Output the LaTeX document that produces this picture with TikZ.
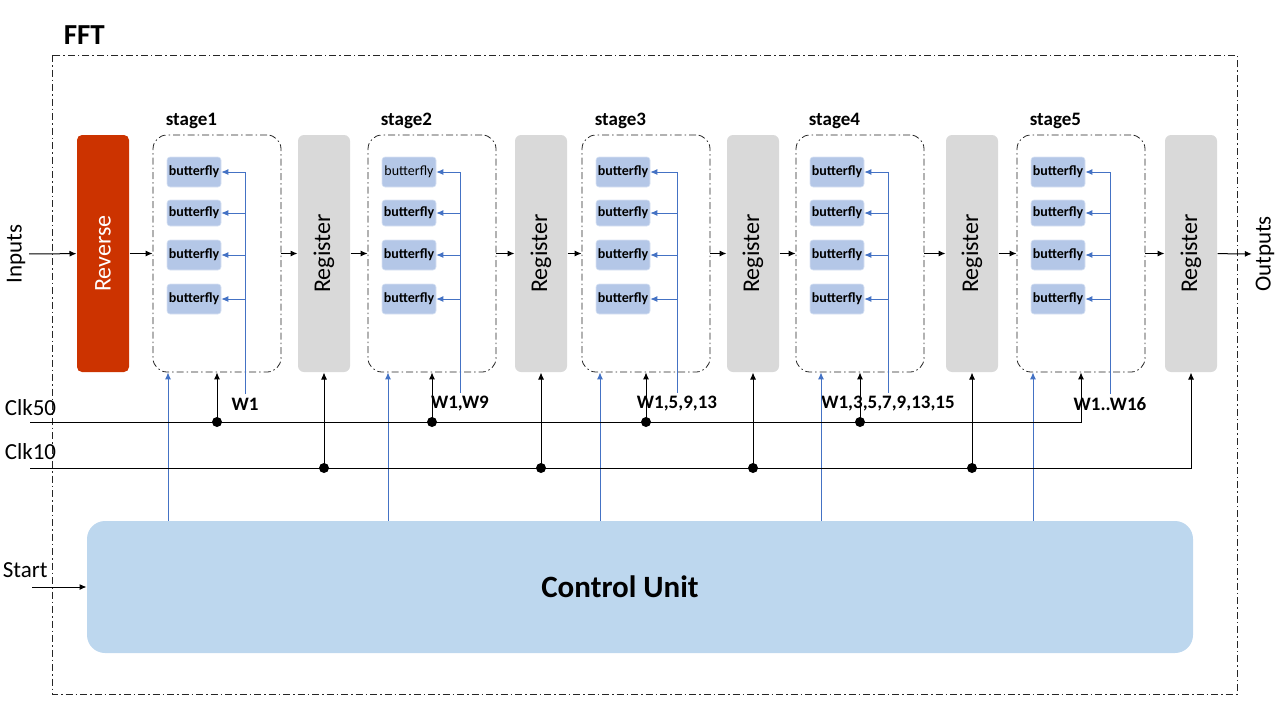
\documentclass[tikz,border=0pt]{standalone}
\usepackage{fontspec}
\setmainfont{Carlito}
\usepackage{graphicx}
\usepackage{xcolor}
\usepackage{tikz}
\usetikzlibrary{positioning, calc, arrows.meta}

\definecolor{revred}{RGB}{204,51,0}
\definecolor{reggray}{RGB}{217,217,217}
\definecolor{bflyblue}{RGB}{180,199,231}
\definecolor{ctrlblue}{RGB}{189,215,238}
\definecolor{wblue}{RGB}{68,114,196}

\begin{document}
\begin{tikzpicture}[x=1pt, y=-1pt, >={Latex[length=7pt,width=6pt]}, line width=1pt,
  revbox/.style={fill=revred, rounded corners=5pt, minimum width=52pt, minimum height=237pt, inner sep=0pt, text=white, font=\fontsize{24}{28}\selectfont},
  regbox/.style={fill=reggray, rounded corners=6pt, minimum width=52pt, minimum height=237pt, inner sep=0pt, font=\fontsize{24}{28}\selectfont},
  stagebox/.style={draw=black!85, line width=0.8pt, dash pattern=on 7pt off 3pt on 1.5pt off 3pt, rounded corners=14pt, minimum width=128pt, minimum height=237pt, inner sep=0pt},
  bfly/.style={fill=bflyblue, draw=bflyblue!50, line width=0.6pt, rounded corners=3pt, minimum width=54pt, inner sep=0pt, font=\fontsize{14}{15}\selectfont\bfseries},
  ctrlbox/.style={fill=ctrlblue, rounded corners=18pt, minimum width=1106pt, minimum height=132pt, inner sep=0pt, font=\fontsize{31}{34}\selectfont\bfseries},
  lbl/.style={font=\fontsize{19}{22}\selectfont\bfseries},
  side/.style={font=\fontsize{23}{26}\selectfont},
  wire/.style={draw=wblue, line width=0.9pt},
  dot/.style={circle, fill=black, inner sep=0pt, minimum size=10pt}]
  \useasboundingbox (0,0) rectangle (1280,720);
  % Outer frame
  \draw[black!85, line width=0.8pt, dash pattern=on 7pt off 3pt on 1.5pt off 3pt] (52,55) rectangle (1237,694);
  \node[font=\fontsize{29}{32}\selectfont\bfseries, anchor=base west] (fft) at (60,44) {FFT};
  % Inputs and outputs
  \node[side, rotate=90] (inp) at (16,254) {Inputs};
  \node[side, rotate=90] (out) at (1265,254) {Outputs};
  \node[revbox] (rev) at (103,253.5) {\rotatebox{90}{Reverse}};
  % Registers
  \foreach \i/\rx in {1/324, 2/541, 3/753, 4/972, 5/1191}
    \node[regbox] (r\i) at (\rx,253.5) {\rotatebox{90}{Register}};
  % Control unit
  \node[ctrlbox] (cu) at (640,587) {Control Unit\hspace*{40pt}};
  \node[side, anchor=west] (start) at (-1,570) {Start};
  \coordinate (st) at (32,587);
  \draw[->] (st) -- (cu);
  % Clocks
  \node[side, anchor=west] (clk50) at (1,408) {Clk50};
  \node[side, anchor=west] (clk10) at (1,452) {Clk10};
  \coordinate (c50) at (30,422);
  \coordinate (c10) at (30,468);
  % Stages
  \foreach \i/\sx/\cx/\wx/\wt in {1/217/168/245/{W1}, 2/432/388/460/{W1,W9}, 3/646/600/677/{W1,5,9,13}, 4/860/821/888/{W1,3,5,7,9,13,15}, 5/1081/1033/1110/{W1..W16}} {
    \node[stagebox] (s\i) at (\sx,253.5) {};
    \node[lbl, anchor=base west] (sl\i) at ({\sx-55},125) {stage\i};
    \foreach \j/\by/\bh in {1/172/30, 2/213/26, 3/255/30, 4/299/30}
      \node[bfly, minimum height=\bh pt] (b\i\j) at ({\sx-23},\by) {\ifnum\i\j=21 \mdseries\fi butterfly};
    \node[lbl] (w\i) at (\wx,404) {\wt};
    \draw[wire, ->] (w\i.north) |- (b\i1.east);
    \foreach \j in {2,3,4}
      \draw[wire, ->] (b\i\j.east -| w\i.north) -- (b\i\j.east);
    \coordinate (k\i) at (\cx,0);
    \draw[wire, ->] (k\i |- cu.north) -- (k\i |- s\i.south);
  }
  % Clock lines
  \draw[->] (c50) -| (s5.south);
  \draw[->] (c10) -| (r5.south);
  \foreach \i in {1,...,4} {
    \node[dot] (d\i) at (s\i.south |- c50) {};
    \draw[->] (d\i.center) -- (s\i.south);
    \node[dot] (e\i) at (r\i.south |- c10) {};
    \draw[->] (e\i.center) -- (r\i.south);
  }
  % Data path
  \foreach \a/\b in {inp/rev, rev/s1, s1/r1, r1/s2, s2/r2, r2/s3, s3/r3, r3/s4, s4/r4, r4/s5, s5/r5, r5/out}
    \draw[->] (\a) -- (\b);
\end{tikzpicture}
\end{document}
